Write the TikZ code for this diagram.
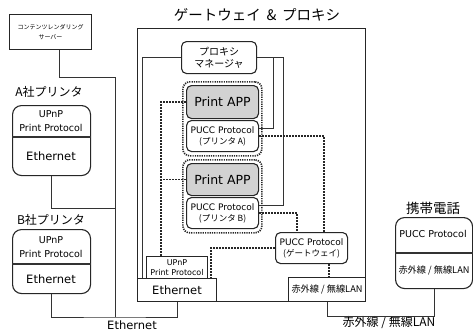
\documentclass[tikz,border=0pt]{standalone}
\usepackage{fontspec}
\setmainfont{DejaVu Sans}
\newfontfamily\jp{Noto Sans CJK JP}
\begin{document}
\begin{tikzpicture}[x=1pt,y=-1pt,
  sqbox/.style={draw=black!85, line width=1pt, inner sep=0pt, anchor=north west, align=center},
  rbox/.style={draw=black!85, line width=1.1pt, rounded corners=5pt, inner sep=0pt, anchor=north west, align=center},
  pbox/.style={draw=black!85, line width=1.1pt, rounded corners=9pt, inner sep=0pt, anchor=north west},
  grp/.style={draw=black!85, line width=1.7pt, dash pattern=on 1.2pt off 1.1pt, rounded corners=7pt, inner sep=0pt, anchor=north west},
  conn/.style={draw=black!80, line width=1pt},
  dots/.style={draw=black!85, line width=1.8pt, dash pattern=on 1.6pt off 1.4pt},
  fEth/.style={font=\fontsize{11.5}{13}\selectfont},
  fApp/.style={font=\fontsize{12.5}{14}\selectfont},
  fPuc/.style={font=\fontsize{9}{11}\selectfont},
  fUp/.style={font=\fontsize{9.5}{14.5}\selectfont},
  fLbl/.style={font=\jp\fontsize{12}{14}\selectfont},
]
\useasboundingbox (0,0) rectangle (473,332);

% server
\node[sqbox, minimum width=82pt, minimum height=35pt, font=\jp\fontsize{6}{9.5}\selectfont] (srv) at (9,14) {コンテンツレンダリング\\サーバー};

% gateway
\node[sqbox, minimum width=228pt, minimum height=273pt] (gw) at (137,28) {};
\node[font=\jp\fontsize{14.5}{16}\selectfont] (gwt) at (257,15) {ゲートウェイ \,\&\, プロキシ};

% proxy manager
\node[rbox, minimum width=75pt, minimum height=32pt, font=\jp\fontsize{10}{12.5}\selectfont] (pm) at (181,41) {プロキシ\\マネージャ};

% group A
\node[grp, minimum width=79pt, minimum height=74pt] (ga) at (182,81) {};
\node[rbox, fill=gray!35, minimum width=72pt, minimum height=33pt, fApp] (appA) at (186,85) {Print APP};
\node[rbox, fill=white, minimum width=72pt, minimum height=31pt, fPuc] (pucA) at (186,120) {PUCC Protocol\\{\jp\fontsize{8.5}{11}\selectfont (プリンタ A)}};

% group B
\node[grp, minimum width=79pt, minimum height=73pt] (gb) at (182,159) {};
\node[rbox, fill=gray!35, minimum width=72pt, minimum height=32pt, fApp] (appB) at (186,163) {Print APP};
\node[rbox, fill=white, minimum width=72pt, minimum height=31pt, fPuc] (pucB) at (186,197) {PUCC Protocol\\{\jp\fontsize{8.5}{11}\selectfont (プリンタ B)}};

% gateway bottom boxes
\node[sqbox, minimum width=61pt, minimum height=22pt, font=\fontsize{8}{10}\selectfont] (upnp) at (146,256) {UPnP\\Print Protocol};
\node[sqbox, fill=white, minimum width=79pt, minimum height=23pt, fEth] (geth) at (137,278) {Ethernet};
\node[rbox, fill=white, minimum width=72pt, minimum height=31pt, fPuc] (gpuc) at (275,232) {PUCC Protocol\\{\jp\fontsize{8.5}{11}\selectfont (ゲートウェイ)}};
\node[sqbox, minimum width=77pt, minimum height=24pt, font=\jp\fontsize{9.2}{10}\selectfont] (gwl) at (288,277) {赤外線 / 無線LAN};

% printer A
\node[fLbl] (pal) at (49,92) {A社プリンタ};
\node[pbox, minimum width=78pt, minimum height=70pt] (pa) at (12,105) {};
\draw[conn, line width=1.1pt] (pa.west |- 0,137) -- (pa.east |- 0,137);
\node[fUp, align=center] (pat) at (51,121) {UPnP\\Print Protocol};
\node[fEth] (pab) at (51,156) {Ethernet};

% printer B
\node[fLbl] (pbl) at (51,220) {B社プリンタ};
\node[pbox, minimum width=78pt, minimum height=64pt] (pb) at (12,229) {};
\draw[conn, line width=1.1pt] (pb.west |- 0,264) -- (pb.east |- 0,264);
\node[fUp, align=center] (pbt) at (51,247) {UPnP\\Print Protocol};
\node[fEth] (pbb) at (51,279) {Ethernet};

% phone
\node[font=\jp\fontsize{13.5}{15}\selectfont] (phl) at (433,208) {携帯電話};
\node[pbox, minimum width=77pt, minimum height=71pt] (ph) at (395,217) {};
\draw[conn, line width=1.1pt] (ph.west |- 0,253) -- (ph.east |- 0,253);
\node[font=\fontsize{9.5}{11}\selectfont] (pht) at (433,234) {PUCC Protocol};
\node[font=\jp\fontsize{9.2}{10}\selectfont] (phb) at (434,270) {赤外線 / 無線LAN};

% bottom labels
\node[fEth] (ethl) at (132,325) {Ethernet};
\node[fLbl] (wll) at (389,323) {赤外線 / 無線LAN};

% solid connectors
\coordinate (j1) at (115,77);
\coordinate (bus) at (115,317);
\coordinate (j2) at (115,208);
\coordinate (r1) at (273,128);
\coordinate (r2) at (283,205);
\draw[conn] ([xshift=9pt]srv.south) |- (j1) -- (bus);
\draw[conn] (pa.south) |- (j2);
\draw[conn] (pb.south) |- (bus) -| (geth.south);
\draw[conn] (pm.west) -| ([xshift=5pt]geth.north west);
\draw[conn] (pm.east) -| (r2) -- (pucB.east |- r2);
\draw[conn] (pm.east -| r1) -- (r1) -- (pucA.east |- r1);
\draw[conn] (ph.south) -- ++(0,27) -| (gwl.south);

% dotted connectors
\coordinate (dl) at (161,0);
\draw[dots] (appA.west) -| (upnp.north -| dl);
\draw[dots] (appB.west) -- (appB.west -| dl);
\draw[dots] (pucA.east) -| (gpuc.north -| 324,0);
\draw[dots] (pucB.east) -| (gpuc.north -| 297,0);
\draw[dots] (gpuc.west) -| (geth.north -| 211,0);
\draw[dots] (gpuc.south -| 329,0) -- (gwl.north -| 329,0);
\end{tikzpicture}
\end{document}
